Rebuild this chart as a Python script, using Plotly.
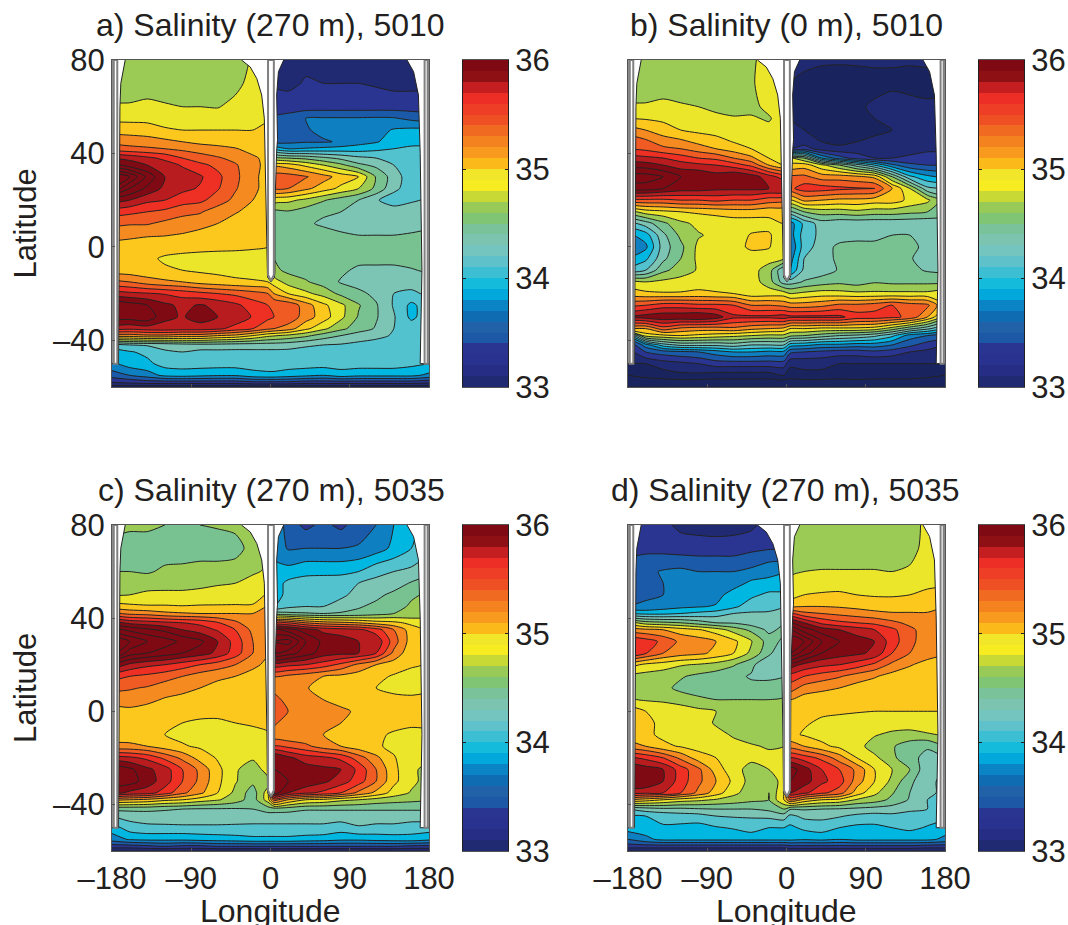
import plotly.graph_objects as go

W, H = 1068, 925

lats = [80,70,60,55,50,45,42,38,35,30,25,20,15,10,5,0,-5,-10,-15,-20,-25,-30,-35,-38,-42,-45,-50,-55,-58,-60]
lons_west = [-180,-160,-140,-120,-100,-80,-60,-40,-20,-3]
lons_east = [4,20,40,60,80,100,120,140,160,180]

a_west = [
[34.7,34.7,34.7,34.7,34.7,34.7,34.7,34.72,34.82,34.88],
[34.7,34.7,34.7,34.7,34.7,34.7,34.7,34.75,34.86,34.9],
[34.82,34.82,34.85,34.82,34.8,34.8,34.79,34.85,34.9,34.92],
[34.95,34.95,34.95,34.9,34.9,34.88,34.88,34.9,34.93,34.98],
[35.12,35.1,35.08,35.03,35.0,35.0,35.0,35.0,35.0,35.04],
[35.35,35.33,35.3,35.25,35.2,35.15,35.1,35.05,35.05,35.08],
[35.5,35.45,35.43,35.4,35.35,35.3,35.28,35.22,35.1,35.08],
[36.0,35.95,35.85,35.75,35.6,35.5,35.42,35.35,35.25,35.12],
[36.3,36.1,36.0,35.9,35.78,35.65,35.55,35.42,35.28,35.12],
[37.0,36.8,36.35,36.0,35.9,35.83,35.65,35.45,35.25,35.12],
[36.8,36.4,36.15,35.95,35.85,35.78,35.62,35.42,35.25,35.12],
[36.1,36.0,35.85,35.8,35.7,35.65,35.5,35.35,35.2,35.1],
[35.7,35.65,35.6,35.55,35.45,35.42,35.3,35.22,35.12,35.08],
[35.45,35.42,35.42,35.35,35.32,35.28,35.2,35.1,35.05,35.03],
[35.28,35.25,35.22,35.21,35.18,35.12,35.08,35.05,35.03,35.02],
[35.12,35.1,35.08,35.06,35.05,35.04,35.03,35.03,35.02,35.0],
[35.05,35.05,35.03,34.98,34.96,34.95,34.95,34.94,34.93,34.92],
[35.1,35.08,35.05,35.02,35.0,34.97,34.95,34.93,34.92,34.9],
[35.45,35.4,35.3,35.24,35.2,35.12,35.08,35.04,35.02,35.0],
[35.9,35.85,35.82,35.78,35.72,35.66,35.6,35.55,35.48,35.4],
[36.4,36.3,36.2,36.05,35.95,36.02,35.95,35.85,35.7,35.6],
[36.3,36.3,36.35,36.05,35.98,36.1,36.0,35.95,35.78,35.65],
[35.9,35.85,35.9,35.92,35.9,35.9,35.85,35.72,35.6,35.45],
[35.3,35.3,35.35,35.35,35.3,35.3,35.2,35.15,35.0,34.85],
[34.1,34.2,34.22,34.25,34.3,34.32,34.32,34.3,34.3,34.3],
[33.9,33.98,34.05,34.18,34.2,34.15,34.15,34.15,34.15,34.15],
[33.75,33.9,33.95,34.08,34.1,34.1,34.1,34.1,34.1,34.1],
[33.5,33.6,33.7,33.85,33.88,33.85,33.82,33.82,33.92,33.95],
[33.2,33.25,33.3,33.3,33.3,33.3,33.3,33.3,33.35,33.35],
[32.9,32.9,32.9,32.9,32.9,32.9,32.9,32.9,32.9,32.9],
]
a_east = [
[33.15,33.15,33.15,33.15,33.15,33.1,33.05,33.05,33.05,33.05],
[33.18,33.15,33.22,33.2,33.2,33.2,33.18,33.15,33.15,33.15],
[33.3,33.3,33.3,33.3,33.3,33.3,33.3,33.3,33.3,33.3],
[33.45,33.48,33.6,33.62,33.62,33.62,33.63,33.62,33.55,33.5],
[33.5,33.53,33.58,33.65,33.7,33.7,33.72,33.82,33.85,33.85],
[33.55,33.55,33.58,33.58,33.62,33.72,33.78,33.9,33.92,33.93],
[34.0,33.8,33.82,33.85,33.88,33.9,33.95,34.0,34.05,34.05],
[34.7,34.6,34.55,34.45,34.35,34.25,34.2,34.12,34.1,34.1],
[35.15,35.1,34.95,34.8,34.65,34.45,34.35,34.2,34.15,34.1],
[35.5,35.5,35.42,35.28,35.12,35.0,34.58,34.3,34.08,34.15],
[35.4,35.4,35.25,35.1,34.95,34.8,34.55,34.25,34.1,34.15],
[34.9,34.85,34.75,34.62,34.5,34.4,34.22,34.1,34.18,34.22],
[34.55,34.58,34.5,34.42,34.4,34.38,34.35,34.3,34.28,34.28],
[34.55,34.52,34.42,34.38,34.35,34.33,34.33,34.32,34.32,34.35],
[34.52,34.52,34.5,34.45,34.42,34.4,34.4,34.4,34.42,34.45],
[34.55,34.52,34.52,34.5,34.5,34.48,34.47,34.47,34.47,34.48],
[34.6,34.55,34.52,34.5,34.48,34.46,34.45,34.45,34.45,34.47],
[34.65,34.55,34.52,34.48,34.44,34.36,34.36,34.36,34.39,34.42],
[34.9,34.72,34.62,34.52,34.38,34.32,34.3,34.28,34.3,34.35],
[35.2,35.0,34.85,34.72,34.55,34.45,34.35,34.2,34.15,34.25],
[35.6,35.55,35.3,35.05,34.85,34.62,34.42,34.18,33.95,34.12],
[35.6,35.55,35.3,35.1,34.85,34.58,34.42,34.22,33.95,34.12],
[35.4,35.3,35.05,34.85,34.65,34.5,34.38,34.2,34.12,34.12],
[34.82,34.75,34.65,34.5,34.4,34.3,34.25,34.18,34.12,34.1],
[34.3,34.28,34.22,34.2,34.18,34.15,34.12,34.1,34.08,34.08],
[34.15,34.15,34.15,34.15,34.15,34.15,34.12,34.12,34.12,34.12],
[34.1,34.1,34.1,34.1,34.1,34.1,34.1,34.1,34.05,34.0],
[33.95,33.9,33.85,33.8,33.9,33.85,33.85,33.85,33.85,33.75],
[33.35,33.35,33.3,33.3,33.3,33.3,33.3,33.3,33.3,33.25],
[32.9,32.9,32.9,32.9,32.9,32.9,32.9,32.9,32.9,32.9],
]
b_west = [
[34.7,34.7,34.7,34.7,34.7,34.7,34.7,34.78,34.85,34.9],
[34.7,34.7,34.7,34.7,34.7,34.7,34.72,34.78,34.88,34.9],
[34.82,34.82,34.85,34.82,34.8,34.75,34.72,34.75,34.85,34.9],
[35.0,34.98,34.95,34.9,34.88,34.85,34.82,34.82,34.78,34.9],
[35.3,35.2,35.1,35.0,34.95,34.92,34.9,34.88,34.85,34.88],
[35.55,35.45,35.3,35.25,35.15,35.08,34.99,34.92,34.88,34.9],
[35.6,35.55,35.45,35.4,35.3,35.2,35.1,35.0,34.9,34.9],
[35.9,35.85,35.8,35.7,35.6,35.55,35.4,35.25,35.0,34.92],
[36.1,36.1,36.0,35.9,35.85,35.8,35.7,35.55,35.2,35.0],
[36.5,36.5,36.4,36.2,36.2,36.1,36.2,36.1,35.9,35.7],
[36.3,36.3,36.2,36.1,36.1,36.05,36.05,36.05,36.0,36.0],
[35.55,35.55,35.55,35.6,35.6,35.65,35.6,35.6,35.5,35.45],
[34.7,34.9,34.95,35.0,35.03,35.05,35.1,35.1,35.05,35.05],
[34.1,34.3,34.55,34.75,34.85,34.9,34.9,34.9,34.95,35.0],
[33.75,33.9,34.35,34.65,34.78,34.85,34.88,35.02,35.02,34.9],
[33.5,33.75,34.3,34.55,34.85,34.88,34.9,35.05,35.02,34.8],
[33.8,33.95,34.35,34.6,34.85,34.9,34.9,34.88,34.88,34.8],
[34.05,34.2,34.55,34.7,34.82,34.88,34.88,34.88,34.7,34.2],
[34.9,34.8,34.85,34.88,34.9,34.9,34.92,34.9,34.7,34.3],
[35.1,35.05,35.02,35.02,35.05,35.02,35.0,34.88,34.9,34.9],
[35.55,35.6,35.7,35.7,35.65,35.65,35.6,35.4,35.4,35.35],
[36.0,36.1,36.15,36.15,36.2,36.1,35.85,35.85,35.85,35.9],
[35.25,35.2,35.5,35.35,35.3,35.3,35.35,35.25,35.2,35.15],
[33.8,34.9,34.95,35.0,34.95,34.9,34.85,34.8,34.75,34.75],
[33.2,33.7,34.1,34.25,34.25,34.25,34.3,34.2,34.2,34.2],
[33.1,33.4,33.5,33.55,33.6,33.7,33.8,33.8,33.75,33.75],
[33.0,33.0,33.1,33.15,33.2,33.3,33.3,33.3,33.3,33.3],
[32.8,32.85,32.9,32.95,32.95,32.9,32.9,32.9,32.9,33.0],
[32.7,32.7,32.7,32.7,32.7,32.7,32.7,32.7,32.7,32.7],
[32.6,32.6,32.6,32.6,32.6,32.6,32.6,32.6,32.6,32.6],
]
b_east = [
[33.15,33.1,33.05,33.05,33.05,33.05,33.05,33.05,33.05,33.05],
[33.0,32.9,32.85,32.8,32.85,32.9,32.9,32.85,32.9,32.95],
[32.95,32.85,32.85,32.95,32.95,33.05,33.2,33.15,33.05,33.05],
[33.0,32.95,32.9,32.9,32.95,33.0,33.05,33.1,33.05,33.05],
[33.1,33.0,32.9,32.85,32.9,32.95,33.0,33.05,33.05,33.05],
[33.05,33.1,33.0,32.95,33.0,33.05,33.05,33.1,33.1,33.1],
[33.2,33.3,33.1,33.05,33.1,33.1,33.1,33.1,33.15,33.15],
[34.85,34.6,33.8,33.5,33.3,33.2,33.2,33.25,33.3,33.3],
[35.05,35.1,34.85,34.6,34.3,34.0,33.65,33.45,33.4,33.4],
[35.45,35.45,35.3,35.3,35.25,35.15,34.6,34.05,33.85,33.75],
[35.55,35.7,35.7,35.65,35.62,35.6,35.2,34.8,34.25,34.2],
[35.0,35.25,35.2,35.15,35.15,35.1,35.1,34.95,34.85,34.5],
[34.35,34.6,34.7,34.7,34.75,34.7,34.7,34.65,34.6,34.5],
[33.7,34.05,34.3,34.25,34.25,34.25,34.25,34.25,34.25,34.3],
[33.7,34.1,34.25,34.3,34.3,34.35,34.4,34.4,34.35,34.2],
[33.6,34.1,34.3,34.45,34.5,34.45,34.45,34.45,34.35,34.1],
[33.7,34.2,34.3,34.45,34.5,34.45,34.45,34.42,34.3,34.2],
[33.8,34.25,34.3,34.42,34.42,34.45,34.45,34.45,34.38,34.35],
[34.3,34.42,34.5,34.55,34.5,34.58,34.55,34.55,34.55,34.55],
[34.8,34.85,34.9,34.88,34.85,34.85,34.85,34.85,34.85,34.95],
[35.3,35.3,35.35,35.45,35.45,35.5,35.6,35.5,35.45,35.0],
[35.85,35.85,35.85,35.85,35.7,35.7,35.65,35.55,35.2,34.7],
[35.0,35.0,34.95,34.95,34.95,34.9,34.7,34.45,34.25,34.0],
[34.65,34.6,34.5,34.4,34.35,34.25,34.05,33.7,33.6,33.5],
[33.9,33.85,33.75,33.75,33.7,33.7,33.6,33.45,33.3,33.2],
[33.45,33.4,33.35,33.3,33.3,33.35,33.3,33.2,33.15,33.1],
[33.05,33.05,33.05,33.0,33.0,33.0,33.0,33.0,33.0,33.0],
[32.9,32.95,32.95,32.9,32.95,32.9,32.9,32.9,32.85,32.8],
[32.7,32.7,32.7,32.7,32.7,32.7,32.7,32.7,32.7,32.7],
[32.6,32.6,32.6,32.6,32.6,32.6,32.6,32.6,32.6,32.6],
]
c_west = [
[34.62,34.62,34.62,34.6,34.58,34.6,34.62,34.65,34.7,34.75],
[34.58,34.55,34.55,34.52,34.5,34.5,34.5,34.52,34.68,34.75],
[34.6,34.6,34.58,34.63,34.65,34.68,34.68,34.7,34.78,34.82],
[34.68,34.68,34.7,34.72,34.72,34.75,34.78,34.8,34.85,34.9],
[34.78,34.8,34.85,34.85,34.85,34.86,34.88,34.9,34.92,35.02],
[35.1,35.05,35.02,35.02,35.01,35.02,35.02,35.02,35.02,35.2],
[35.45,35.35,35.32,35.25,35.22,35.2,35.2,35.2,35.2,35.22],
[36.1,35.95,35.9,35.85,35.8,35.75,35.62,35.45,35.25,35.22],
[36.5,36.35,36.25,36.15,36.0,35.9,35.78,35.6,35.35,35.22],
[37.0,36.8,36.6,36.5,36.35,36.25,36.0,35.72,35.4,35.22],
[36.9,36.5,36.4,36.3,36.2,36.1,35.95,35.7,35.4,35.22],
[36.2,35.95,35.85,35.8,35.7,35.6,35.5,35.4,35.25,35.15],
[35.7,35.6,35.55,35.48,35.4,35.3,35.25,35.2,35.12,35.08],
[35.45,35.42,35.38,35.3,35.25,35.2,35.12,35.08,35.05,35.03],
[35.3,35.3,35.25,35.18,35.15,35.1,35.07,35.05,35.03,35.03],
[35.1,35.15,35.12,35.1,35.08,35.06,35.05,35.05,35.05,35.05],
[35.05,35.05,35.05,35.03,35.0,34.97,34.97,35.0,35.03,35.05],
[35.1,35.08,35.06,35.0,34.95,34.93,34.92,34.92,34.93,34.98],
[35.25,35.25,35.2,35.1,35.02,34.97,34.92,34.9,34.9,34.95],
[35.9,35.85,35.75,35.55,35.35,35.12,34.98,34.88,34.85,34.9],
[36.4,36.25,36.05,35.9,35.6,35.35,35.05,34.85,34.6,34.95],
[36.3,36.3,36.1,35.9,35.6,35.35,35.05,34.82,34.65,34.7],
[36.1,35.95,35.9,35.7,35.45,35.25,35.0,34.75,34.5,34.9],
[35.25,35.2,35.15,35.05,35.0,34.9,34.82,34.7,34.5,34.9],
[34.45,34.45,34.45,34.42,34.4,34.38,34.38,34.38,34.4,34.5],
[34.2,34.28,34.3,34.32,34.35,34.35,34.35,34.32,34.3,34.3],
[33.9,34.1,34.15,34.15,34.15,34.15,34.15,34.15,34.15,34.15],
[33.7,33.82,33.85,33.85,33.85,33.88,33.9,33.92,33.95,33.95],
[33.3,33.3,33.35,33.4,33.35,33.35,33.4,33.4,33.4,33.4],
[33.0,33.0,33.0,33.0,33.0,33.0,33.0,33.0,33.0,33.0],
]
c_east = [
[33.8,33.5,33.35,33.45,33.35,33.5,33.6,33.8,33.95,34.1],
[33.75,33.58,33.6,33.6,33.6,33.62,33.7,33.85,34.0,34.15],
[33.85,33.88,33.95,33.95,33.95,34.0,34.15,34.2,34.25,34.35],
[33.9,34.05,34.08,34.1,34.12,34.2,34.25,34.3,34.42,34.5],
[33.92,34.05,34.1,34.12,34.15,34.28,34.35,34.45,34.58,34.62],
[33.98,34.15,34.2,34.2,34.3,34.38,34.45,34.55,34.62,34.68],
[34.6,34.45,34.42,34.4,34.42,34.45,34.52,34.6,34.65,34.7],
[35.6,35.6,35.4,35.3,35.25,35.2,35.1,35.05,34.95,34.9],
[36.4,36.3,36.1,35.95,35.9,35.85,35.7,35.4,35.1,34.95],
[36.8,36.9,36.4,36.15,36.1,36.0,35.95,35.5,35.1,34.95],
[36.6,36.5,36.3,36.1,36.05,36.0,35.8,35.35,35.05,34.98],
[35.9,35.85,35.8,35.7,35.55,35.35,35.2,35.1,35.03,34.98],
[35.4,35.35,35.28,35.2,35.15,35.1,35.05,34.98,34.92,34.95],
[35.3,35.25,35.22,35.1,35.08,35.06,35.0,34.95,34.95,34.98],
[35.5,35.3,35.25,35.2,35.1,35.06,35.05,35.05,35.03,35.03],
[35.45,35.4,35.3,35.28,35.26,35.15,35.08,35.05,35.05,35.05],
[35.45,35.25,35.28,35.25,35.2,35.1,35.06,35.05,35.05,35.05],
[35.25,35.22,35.22,35.2,35.08,35.03,35.03,34.98,34.92,34.95],
[35.6,35.55,35.45,35.3,35.2,35.08,35.03,34.95,34.88,34.9],
[36.2,36.05,35.9,35.85,35.75,35.5,35.25,35.02,34.85,34.85],
[36.2,36.2,36.1,36.05,36.0,35.75,35.4,35.05,34.85,34.72],
[36.4,36.2,36.15,36.05,35.9,35.7,35.4,35.05,34.85,34.72],
[36.3,36.0,35.85,35.75,35.6,35.35,35.15,34.92,34.78,34.7],
[35.5,35.2,35.0,34.95,34.85,34.8,34.72,34.68,34.65,34.62],
[34.5,34.48,34.42,34.42,34.42,34.42,34.42,34.42,34.42,34.42],
[34.3,34.3,34.3,34.3,34.3,34.3,34.3,34.3,34.3,34.3],
[34.15,34.15,34.15,34.15,34.1,34.18,34.15,34.15,34.1,34.1],
[33.95,33.95,33.92,33.9,33.85,33.85,33.88,33.9,33.92,33.85],
[33.4,33.4,33.4,33.4,33.4,33.4,33.4,33.4,33.35,33.35],
[33.0,33.0,33.0,33.0,33.0,33.0,33.0,33.0,33.0,33.0],
]
d_west = [
[33.25,33.22,33.25,33.15,33.12,33.1,33.12,33.15,33.3,33.3],
[33.3,33.35,33.33,33.3,33.3,33.3,33.3,33.35,33.38,33.4],
[33.55,33.55,33.62,33.65,33.6,33.6,33.6,33.65,33.75,33.8],
[33.55,33.55,33.6,33.62,33.62,33.65,33.7,33.85,33.85,33.9],
[33.57,33.58,33.6,33.62,33.65,33.72,33.9,33.95,34.05,34.05],
[33.6,33.62,33.7,33.75,33.78,33.82,33.95,34.12,34.15,34.2],
[34.0,33.95,33.95,34.0,34.05,34.1,34.2,34.22,34.22,34.3],
[34.9,34.7,34.65,34.6,34.5,34.4,34.38,34.3,34.28,34.4],
[35.3,35.25,35.2,35.1,35.02,34.9,34.72,34.55,34.35,34.45],
[35.8,35.7,35.55,35.35,35.3,35.2,35.05,34.82,34.5,34.35],
[35.8,35.62,35.4,35.3,35.25,35.15,35.0,34.75,34.45,34.2],
[35.1,34.95,34.9,34.82,34.78,34.72,34.62,34.45,34.22,34.28],
[34.75,34.72,34.68,34.62,34.55,34.5,34.45,34.38,34.35,34.4],
[34.72,34.68,34.65,34.55,34.48,34.45,34.44,34.45,34.5,34.52],
[34.82,34.78,34.75,34.7,34.65,34.6,34.6,34.6,34.6,34.62],
[35.15,35.0,34.98,34.92,34.85,34.8,34.7,34.65,34.62,34.62],
[35.1,35.05,34.95,34.9,34.88,34.78,34.72,34.68,34.65,34.65],
[35.1,35.05,34.95,34.9,34.88,34.85,34.78,34.72,34.68,34.68],
[35.3,35.2,35.05,34.98,34.92,34.88,34.85,34.82,34.78,34.8],
[35.85,35.75,35.6,35.35,35.1,35.0,34.9,34.85,34.85,34.9],
[36.2,36.1,36.0,35.7,35.45,35.1,34.88,34.72,34.8,35.0],
[36.2,36.2,36.0,35.7,35.45,35.2,34.95,34.72,34.65,34.9],
[35.9,35.85,35.8,35.6,35.35,35.1,34.85,34.7,34.6,35.0],
[35.2,35.1,35.0,34.9,34.85,34.78,34.72,34.65,34.6,35.0],
[34.2,34.3,34.35,34.35,34.38,34.4,34.4,34.4,34.45,34.6],
[33.98,34.0,34.05,34.1,34.12,34.2,34.22,34.22,34.25,34.3],
[33.9,33.9,33.98,33.95,33.92,33.98,34.02,34.1,34.0,34.0],
[33.6,33.75,33.85,33.85,33.85,33.85,33.85,33.85,33.85,33.85],
[33.3,33.3,33.3,33.3,33.3,33.3,33.3,33.3,33.3,33.3],
[33.0,33.0,33.0,33.0,33.0,33.0,33.0,33.0,33.0,33.0],
]
d_east = [
[34.7,34.7,34.7,34.7,34.7,34.7,34.7,34.72,34.85,34.9],
[34.72,34.7,34.7,34.7,34.7,34.7,34.7,34.75,34.85,34.92],
[34.75,34.8,34.81,34.81,34.81,34.81,34.8,34.82,34.9,34.92],
[34.88,34.9,34.92,34.95,34.95,34.95,34.95,34.95,34.95,34.98],
[34.9,35.0,35.02,35.02,35.0,34.98,34.98,35.0,35.05,35.05],
[35.1,35.2,35.2,35.18,35.15,35.12,35.1,35.1,35.1,35.2],
[35.6,35.45,35.4,35.35,35.3,35.25,35.22,35.22,35.22,35.25],
[36.2,36.0,35.75,35.65,35.6,35.55,35.45,35.35,35.25,35.25],
[36.6,36.3,36.1,36.0,35.9,35.8,35.65,35.45,35.3,35.25],
[37.0,36.8,36.4,36.2,36.1,36.0,35.7,35.45,35.3,35.22],
[36.8,36.5,36.2,36.1,36.05,35.95,35.6,35.4,35.3,35.22],
[36.1,35.95,35.85,35.8,35.7,35.55,35.35,35.22,35.12,35.1],
[35.7,35.6,35.5,35.42,35.3,35.22,35.12,35.08,35.05,35.04],
[35.5,35.32,35.25,35.2,35.12,35.08,35.06,35.04,35.03,35.03],
[35.2,35.1,35.08,35.06,35.05,35.05,35.04,35.03,35.02,35.02],
[35.05,35.05,35.03,35.02,35.01,35.0,35.0,35.0,35.0,35.0],
[35.05,35.02,34.97,34.95,34.93,34.92,34.92,34.92,34.92,34.92],
[35.05,34.98,34.92,34.9,34.88,34.82,34.75,34.72,34.78,34.82],
[35.3,35.2,35.05,34.95,34.88,34.7,34.62,34.5,34.42,34.6],
[35.8,35.7,35.55,35.3,35.0,34.85,34.65,34.45,34.35,34.4],
[36.3,36.1,35.8,35.6,35.35,35.0,34.8,34.6,34.25,34.2],
[36.2,36.1,35.85,35.7,35.3,35.0,34.75,34.45,34.25,34.15],
[36.0,35.85,35.65,35.5,35.1,34.85,34.62,34.4,34.25,34.15],
[35.4,35.15,35.0,34.95,34.78,34.7,34.55,34.38,34.2,34.15],
[34.42,34.42,34.4,34.38,34.35,34.32,34.3,34.25,34.2,34.15],
[34.15,34.25,34.25,34.22,34.15,34.12,34.15,34.1,34.1,34.05],
[33.95,34.05,34.1,34.0,33.95,33.95,34.0,34.05,33.98,33.9],
[33.85,33.82,33.85,33.8,33.85,33.85,33.85,33.85,33.85,33.75],
[33.35,33.35,33.35,33.35,33.35,33.35,33.35,33.35,33.3,33.3],
[33.0,33.0,33.0,33.0,33.0,33.0,33.0,33.0,33.0,33.0],
]

titles = ["a) Salinity (270 m), 5010", "b) Salinity (0 m), 5010",
          "c) Salinity (270 m), 5035", "d) Salinity (270 m), 5035"]
wall_tips = [-15, -15, -37, -37]
x_ticks = [-180, -90, 0, 90, 180]
x_tick_text = ["–180", "–90", "0", "90", "180"]
y_ticks = [-40, 0, 40, 80]
y_tick_text = ["–40", "0", "40", "80"]
bar_ticks = [33, 34, 35, 36]

# coastlines bounding the basins
west_edge_lat = [80, 74, 70, 60, -50, -50, 80]
west_edge_lon = [-165, -168, -170, -171, -172.6, -180, -180]
mid_west_lat = [80, 77, 72, 65, 55, 45, -11]
mid_west_lon = [-33, -23, -15.5, -10, -7, -6.5, -4]
mid_east_lat = [80, 75, 65, 46, 41, 17, -11]
mid_east_lon = [15, 9, 7, 8, 7, 5, 5]
east_edge_lat = [80, 75, 65, 40, -10, -50, -50, 80]
east_edge_lon = [155, 162.5, 168, 170, 172, 170, 180, 180]

band_edges = [33.0,33.2,33.4,33.6,33.8,34.0,34.2,34.4,34.6,34.8,35.0,35.2,35.4,35.6,35.8]
band_colors = ["#1f2a72","#2a3591","#1b5aa8","#0e7fc1","#00b7e2","#52c2cf","#7cc4b4","#78c292",
               "#9ccb55","#ece62a","#fdc81e","#f58a20","#ef5b23","#ed2f24","#b81c1e"]
core_color = "#7f0a14"
deep_color = "#19245f"
bar_values = [33.0+0.1*k for k in range(30)]
bar_colors = ["#1f2a72","#252e84","#2a3290","#2a3592","#1c58a6","#2161a8","#0f6bb2","#0a84c4","#00a8dc","#14bbdb",
              "#3cbfd2","#5fc2ca","#74c4c0","#7cc4b0","#7ac39a","#80c574","#98ca58","#c8d835","#f7ec22","#f2e62a",
              "#fcb91a","#f79a1e","#f4821f","#f06a22","#ef5023","#ee3e25","#ec2e26","#c41e20","#8e0f14","#7f0a14"]

INK = "#231f20"
FRAME = "#555555"
WALL = "#808080"
FS = 31
FS_TITLE = 32
FONT = "Liberation Sans"

panels = [
    dict(z=(a_west, a_east), x=(112, 429), y=(60, 387), cb=(463, 508), tx=270, ty=25),
    dict(z=(b_west, b_east), x=(628, 945), y=(60, 387), cb=(979, 1024), tx=786, ty=25),
    dict(z=(c_west, c_east), x=(112, 429), y=(525, 851), cb=(463, 508), tx=271, ty=490),
    dict(z=(d_west, d_east), x=(628, 945), y=(525, 851), cb=(979, 1024), tx=785, ty=490),
]

def band_scale():
    s = lambda v: round((v-33.0)/3.0, 5)
    scale = [[0.0, deep_color], [s(33.04), deep_color]]
    for i, (e, c) in enumerate(zip(band_edges, band_colors)):
        lo = max(e, 33.04)
        hi = band_edges[i+1] if i < len(band_edges)-1 else 35.95
        scale.append([s(lo), c]); scale.append([s(hi), c])
    scale.append([s(35.95), core_color]); scale.append([1.0, core_color])
    return scale

def bar_scale():
    n = len(bar_colors)
    out = []
    for i, c in enumerate(bar_colors):
        out.append([i/n, c]); out.append([(i+1)/n, c])
    return out

fig = go.Figure()
layout = dict(template="none", width=W, height=H, margin=dict(l=0, r=0, t=0, b=0), paper_bgcolor="white", plot_bgcolor="white",
              showlegend=False, font=dict(family=FONT, size=FS, color=INK))
ann = []
lon_all = lons_west + lons_east

def mask(xa, ya, lon, lat, color, width):
    fig.add_trace(go.Scatter(x=lon, y=lat, xaxis=xa, yaxis=ya, mode="lines", fill="toself", fillcolor="white",
                             line=dict(color=color, width=width), hoverinfo="skip"))

for i, p in enumerate(panels):
    n = i*2+1
    xa, ya = f"x{n}", f"y{n}"
    xb, yb = f"x{n+1}", f"y{n+1}"
    rows = [w+e for w, e in zip(*p["z"])][::-1]
    fig.add_trace(go.Contour(x=lon_all, y=lats[::-1], z=rows, xaxis=xa, yaxis=ya, zmin=33, zmax=36,
                             colorscale=band_scale(), showscale=False, hoverinfo="skip",
                             contours=dict(start=31, end=38, size=0.2, coloring="fill", showlines=True),
                             line=dict(color="#222222", width=1, smoothing=0.7)))
    tip = wall_tips[i]
    mask(xa, ya, west_edge_lon, west_edge_lat, "#222222", 1)
    mask(xa, ya, east_edge_lon, east_edge_lat, "#222222", 1)
    mw = [(lo, la) for lo, la in zip(mid_west_lon, mid_west_lat)]
    me = [(lo, la) for lo, la in zip(mid_east_lon, mid_east_lat)]
    last = [(-3.4, tip+2)] if tip < -11 else []
    last_e = [(4.5, tip+2)] if tip < -11 else []
    pts = mw + last + [(0.5, tip)] + last_e + me[::-1]
    mask(xa, ya, [q[0] for q in pts], [q[1] for q in pts], "#222222", 1)
    # grey walls
    mask(xa, ya, [-178, -174, -174, -178, -178], [80, 80, -50, -50, 80], WALL, 2)
    mask(xa, ya, [175, 178.5, 178.5, 175, 175], [80, 80, -50, -50, 80], WALL, 2)
    mask(xa, ya, [-2.8, 3.8, 3.8, 0.5, -2.8, -2.8], [80, 80, tip+3, tip+0.5, tip+3, 80], WALL, 2)
    # colour bar
    fig.add_trace(go.Heatmap(x=[0, 1], y=[v+0.05 for v in bar_values], z=[[v+0.05, v+0.05] for v in bar_values],
                             xaxis=xb, yaxis=yb, zmin=33, zmax=36, colorscale=bar_scale(), showscale=False,
                             hoverinfo="skip", zsmooth=False))
    xdom = [p["x"][0]/W, p["x"][1]/W]
    ydom = [1-p["y"][1]/H, 1-p["y"][0]/H]
    show_x = i >= 2
    show_y = i in (0, 2)
    layout[f"xaxis{n}"] = dict(domain=xdom, anchor=ya, range=[-180, 180], tickmode="array", tickvals=x_ticks, automargin=False,
                               ticktext=x_tick_text, showticklabels=show_x, ticks="inside", ticklen=3, tickcolor=FRAME,
                               showline=True, linecolor=FRAME, linewidth=1, mirror=True, showgrid=False, zeroline=False,
                               tickfont=dict(size=FS, color=INK, family=FONT))
    layout[f"yaxis{n}"] = dict(domain=ydom, anchor=xa, range=[-60, 80], tickmode="array", tickvals=y_ticks, automargin=False,
                               ticktext=y_tick_text, showticklabels=show_y, ticks="inside", ticklen=3, tickcolor=FRAME,
                               showline=True, linecolor=FRAME, linewidth=1, mirror=True, showgrid=False, zeroline=False,
                               tickfont=dict(size=FS, color=INK, family=FONT))
    layout[f"xaxis{n+1}"] = dict(domain=[p["cb"][0]/W, p["cb"][1]/W], anchor=yb, range=[-0.5, 1.5], showticklabels=False,
                                 ticks="", showline=True, linecolor=FRAME, linewidth=1, mirror=True, showgrid=False,
                                 zeroline=False, automargin=False)
    layout[f"yaxis{n+1}"] = dict(domain=ydom, anchor=xb, side="right", range=[33, 36], tickmode="array", tickvals=bar_ticks,
                                 ticktext=[str(t) for t in bar_ticks], ticks="inside", ticklen=3, tickcolor=INK, automargin=False,
                                 showline=True, linecolor=INK, linewidth=1, mirror="ticks", showgrid=False, zeroline=False,
                                 tickfont=dict(size=FS, color=INK, family=FONT))
    ann.append(dict(text=titles[i], x=p["tx"]/W, y=1-p["ty"]/H, xref="paper", yref="paper", showarrow=False,
                    xanchor="center", yanchor="middle", font=dict(size=FS_TITLE, color=INK, family=FONT)))
    if show_x:
        ann.append(dict(text="Longitude", x=(p["x"][0]+p["x"][1])/2/W, y=1-911/H, xref="paper", yref="paper",
                        showarrow=False, xanchor="center", yanchor="middle", font=dict(size=FS_TITLE, color=INK, family=FONT)))
    if show_y:
        ann.append(dict(text="Latitude", x=25/W, y=1-(p["y"][0]+p["y"][1]-0)/2/H, xref="paper", yref="paper", textangle=-90,
                        showarrow=False, xanchor="center", yanchor="middle", font=dict(size=FS, color=INK, family=FONT)))

layout["annotations"] = ann
fig.update_layout(**layout)
fig.write_html("out.html", config={"displayModeBar": False},
               post_script="document.body.style.margin='0';document.documentElement.style.overflow='hidden';")
